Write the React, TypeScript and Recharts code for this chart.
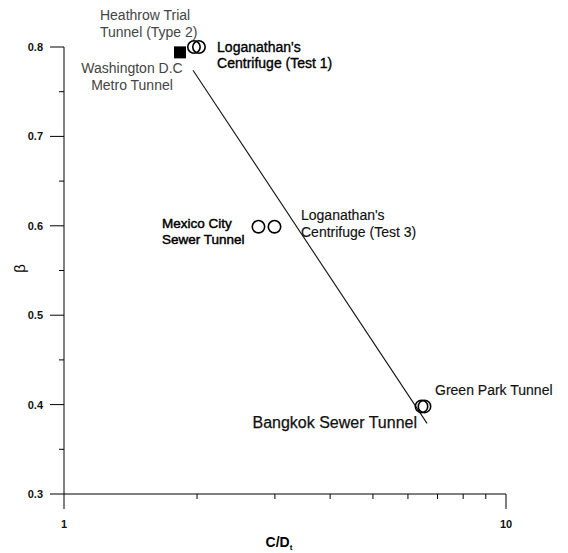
import React from 'react';
import { ScatterChart, Scatter, XAxis, YAxis, ReferenceDot, Label } from 'recharts';

// ---- axis ticks ----
const xTicks = [1, 2, 3, 4, 5, 6, 7, 8, 9, 10];
const xMajorTicks = [1, 10];
const yTicks = [0.3, 0.35, 0.4, 0.45, 0.5, 0.55, 0.6, 0.65, 0.7, 0.75, 0.8];
const yMajorTicks = [0.3, 0.4, 0.5, 0.6, 0.7, 0.8];

// ---- case histories (C/Dt, beta) ----
const washingtonDC = [{ x: 1.83, y: 0.794 }];
const heathrowTrial = [{ x: 1.968, y: 0.8 }];
const loganathanTest1 = [{ x: 2.02, y: 0.8 }];
const mexicoCity = [{ x: 2.754, y: 0.599 }];
const loganathanTest3 = [{ x: 2.994, y: 0.599 }];
const bangkokSewer = [{ x: 6.44, y: 0.398 }];
const greenPark = [{ x: 6.54, y: 0.398 }];

// ---- fitted trend line ----
const trendLine = [
  { x: 1.958, y: 0.774 },
  { x: 6.627, y: 0.379 },
];

// ---- annotation texts ----
const annotationTexts = [
  ['Heathrow Trial', 'Tunnel (Type 2)'],
  ['Washington D.C', 'Metro Tunnel'],
  ["Loganathan's", 'Centrifuge (Test 1)'],
  ['Mexico City', 'Sewer Tunnel'],
  ["Loganathan's", 'Centrifuge (Test 3)'],
  ['Green Park Tunnel'],
  ['Bangkok Sewer Tunnel'],
];

// annotation anchors (in data coordinates) and look
const annotationLayout = [
  { x: 1.206, y: 0.830, anchor: 'start', size: 14, stroke: 0, color: '#444', lh: 17 },
  { x: 1.425, y: 0.771, anchor: 'middle', size: 14, stroke: 0, color: '#444', lh: 17 },
  { x: 2.22, y: 0.7944, anchor: 'start', size: 14, stroke: 0.35, color: '#000', lh: 16 },
  { x: 1.666, y: 0.5975, anchor: 'start', size: 13.5, stroke: 0.45, color: '#000', lh: 16 },
  { x: 3.437, y: 0.6065, anchor: 'start', size: 14, stroke: 0.15, color: '#111', lh: 17 },
  { x: 6.909, y: 0.4107, anchor: 'start', size: 14, stroke: 0.15, color: '#111', lh: 17 },
  { x: 6.29, y: 0.3738, anchor: 'end', size: 16, stroke: 0.25, color: '#111', lh: 17 },
];

const FONT = '"Liberation Sans", Arial, Helvetica, sans-serif';

const XTick = (props: any) => {
  const { x, y, payload } = props;
  const v = payload.value;
  const major = xMajorTicks.includes(v);
  return (
    <g>
      <line x1={x} x2={x} y1={y} y2={y + (major ? 15 : 5)} stroke="#000" strokeWidth={1} />
      {major && (
        <text x={x} y={y + 34} textAnchor="middle" fontSize={11} fontWeight="bold" fill="#111" fontFamily={FONT}>
          {v}
        </text>
      )}
    </g>
  );
};

const YTick = (props: any) => {
  const { x, y, payload } = props;
  const v = payload.value;
  const major = yMajorTicks.some((t) => Math.abs(t - v) < 1e-9);
  return (
    <g>
      <line x1={x - (major ? 14 : 5)} x2={x} y1={y} y2={y} stroke="#000" strokeWidth={1} />
      {major && (
        <text x={x - 21} y={y + 4} textAnchor="end" fontSize={11} fontWeight="bold" fill="#111" fontFamily={FONT}>
          {v.toFixed(1)}
        </text>
      )}
    </g>
  );
};

const OpenCircle = (p: any) => (
  <circle cx={p.cx} cy={p.cy} r={6.2} fill="none" stroke="#000" strokeWidth={1.6} />
);
const FilledSquare = (p: any) => (
  <rect x={p.cx - 6} y={p.cy - 6} width={12} height={12} fill="#000" />
);
const NoShape = () => <g />;

const XTitle = (props: any) => {
  const vb = props.viewBox || {};
  const cx = vb.x + vb.width / 2 - 6;
  const cy = vb.y + 53;
  return (
    <text x={cx} y={cy} textAnchor="middle" fontSize={14} fontWeight="bold" fill="#000" fontFamily={FONT}>
      C/D
      <tspan fontSize={8} dy={3}>t</tspan>
    </text>
  );
};

const YTitle = (props: any) => {
  const vb = props.viewBox || {};
  const cx = vb.x + 5;
  const cy = vb.y + vb.height / 2 - 2;
  return (
    <text
      x={cx}
      y={cy}
      textAnchor="middle"
      dominantBaseline="central"
      fontSize={15}
      fill="#000"
      fontFamily={FONT}
      transform={`rotate(-90, ${cx}, ${cy})`}
    >
      β
    </text>
  );
};

const makeAnnotation = (i: number) => (p: any) => {
  const lay = annotationLayout[i];
  const lines = annotationTexts[i];
  return (
    <text
      x={p.cx}
      y={p.cy}
      textAnchor={lay.anchor}
      fontSize={lay.size}
      fill={lay.color}
      stroke={lay.stroke > 0 ? lay.color : 'none'}
      strokeWidth={lay.stroke}
      fontFamily={FONT}
    >
      {lines.map((l, k) => (
        <tspan key={k} x={p.cx} dy={k === 0 ? 0 : lay.lh}>
          {l}
        </tspan>
      ))}
    </text>
  );
};

export default function App() {
  return (
    <div style={{ width: 560, height: 545, fontFamily: FONT, background: '#fff' }}>
      <ScatterChart width={560} height={545} margin={{ top: 39, right: 62, bottom: 9, left: 6 }}>
        <XAxis
          type="number"
          dataKey="x"
          scale="log"
          domain={[1, 10]}
          ticks={xTicks}
          interval={0}
          allowDataOverflow
          height={50}
          tickSize={0}
          tickMargin={0}
          tickLine={false}
          tick={<XTick />}
          axisLine={{ stroke: '#000', strokeWidth: 1 }}
        >
          <Label content={<XTitle />} />
        </XAxis>
        <YAxis
          type="number"
          dataKey="y"
          domain={[0.3, 0.8]}
          ticks={yTicks}
          interval={0}
          width={50}
          tickSize={0}
          tickMargin={0}
          tickLine={false}
          tick={<YTick />}
          axisLine={{ stroke: '#000', strokeWidth: 1 }}
        >
          <Label content={<YTitle />} />
        </YAxis>
        <Scatter
          data={trendLine}
          line={{ stroke: '#111', strokeWidth: 1.1 }}
          shape={NoShape}
          isAnimationActive={false}
        />
        <Scatter data={washingtonDC} shape={FilledSquare} isAnimationActive={false} />
        <Scatter data={heathrowTrial} shape={OpenCircle} isAnimationActive={false} />
        <Scatter data={loganathanTest1} shape={OpenCircle} isAnimationActive={false} />
        <Scatter data={mexicoCity} shape={OpenCircle} isAnimationActive={false} />
        <Scatter data={loganathanTest3} shape={OpenCircle} isAnimationActive={false} />
        <Scatter data={bangkokSewer} shape={OpenCircle} isAnimationActive={false} />
        <Scatter data={greenPark} shape={OpenCircle} isAnimationActive={false} />
        {annotationLayout.map((a, i) => (
          <ReferenceDot
            key={i}
            x={a.x}
            y={a.y}
            r={0}
            ifOverflow="visible"
            shape={makeAnnotation(i)}
          />
        ))}
      </ScatterChart>
    </div>
  );
}
